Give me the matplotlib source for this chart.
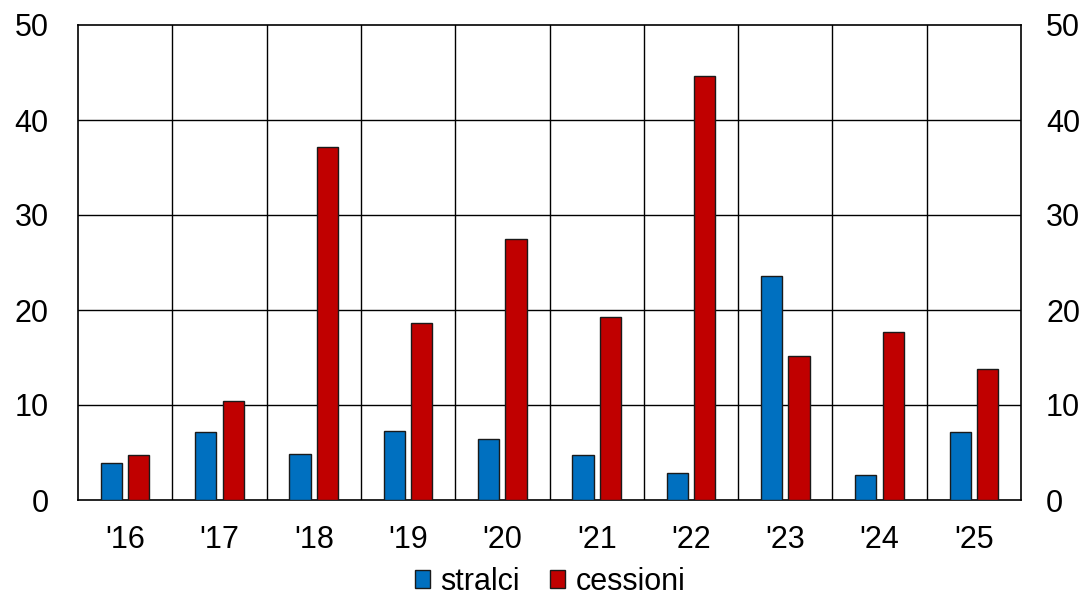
import matplotlib
matplotlib.use("Agg")
import matplotlib.pyplot as plt
import numpy as np
from matplotlib.patches import Patch

plt.rcParams['font.family'] = ['Liberation Sans', 'DejaVu Sans']

years = ["'16", "'17", "'18", "'19", "'20", "'21", "'22", "'23", "'24", "'25"]
stralci = [3.9, 7.2, 4.8, 7.3, 6.4, 4.7, 2.8, 23.6, 2.6, 7.2]
cessioni = [4.7, 10.4, 37.2, 18.6, 27.5, 19.3, 44.6, 15.2, 17.7, 13.8]

blue = '#0070C0'
red = '#C00000'
fs = 22

fig = plt.figure(figsize=(10.89, 6.0), dpi=100)
ax = fig.add_axes([78 / 1089, 1 - 500 / 600, (1021 - 78) / 1089, (500 - 25) / 600])

x = np.arange(len(years))
w = 0.225
off = 0.145
ax.bar(x - off, stralci, w, color=blue, edgecolor='#1a1a1a', linewidth=1.0, zorder=3)
ax.bar(x + off, cessioni, w, color=red, edgecolor='#1a1a1a', linewidth=1.0, zorder=3)

ax.set_xlim(-0.5, len(years) - 0.5)
ax.set_ylim(0, 50)
ax.set_yticks(range(0, 51, 10))
ax.set_xticks(x)
ax.set_xticklabels(years)

# category separators and horizontal grid
for b in np.arange(0.5, len(years) - 0.5, 1.0):
    ax.axvline(b, color='#000000', linewidth=1.0, zorder=1)
for v in range(10, 50, 10):
    ax.axhline(v, color='#000000', linewidth=1.0, zorder=1)

for s in ax.spines.values():
    s.set_color('#000000')
    s.set_linewidth(1.2)

ax.tick_params(axis='both', length=0, labelsize=fs, colors='#000000')
ax.tick_params(axis='x', pad=18)
ax.tick_params(axis='y', pad=21)

# duplicate value scale on the right side
ax_r = ax.twinx()
ax_r.set_ylim(ax.get_ylim())
ax_r.set_yticks(range(0, 51, 10))
ax_r.tick_params(axis='y', length=0, labelsize=fs, colors='#000000', pad=18)
for s in ax_r.spines.values():
    s.set_visible(False)

handles = [Patch(facecolor=blue, edgecolor='#1a1a1a', label='stralci'),
           Patch(facecolor=red, edgecolor='#1a1a1a', label='cessioni')]
fig.legend(handles=handles, loc='lower center', bbox_to_anchor=(0.505, -0.025), ncol=2,
           frameon=False, fontsize=fs, handlelength=0.5, handleheight=0.5,
           handletextpad=0.33, columnspacing=1.0, borderpad=0.1)

fig.savefig('out.png', dpi=100)
